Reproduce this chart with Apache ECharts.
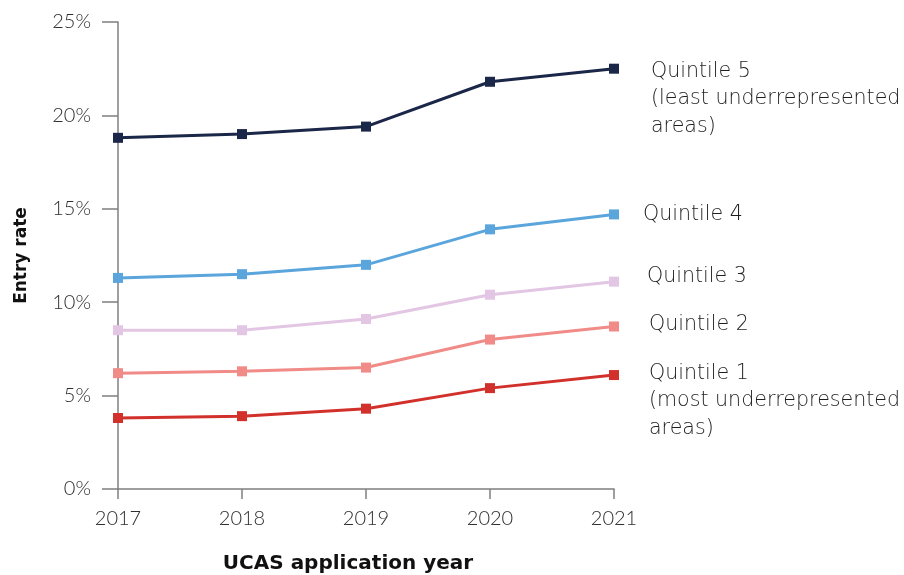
<!DOCTYPE html>
<html>
<head>
<meta charset="utf-8">
<script src="https://cdn.jsdelivr.net/npm/echarts@6/dist/echarts.min.js"></script>
<style>
  html, body { margin: 0; padding: 0; background: #fff; }
  #chart { width: 904px; height: 575px; }
</style>
</head>
<body>
<div id="chart"></div>
<script>
// UCAS entry rates by POLAR quintile, 2017–2021 (percent)
const years = ['2017', '2018', '2019', '2020', '2021'];
const yTicks = [0, 5, 10, 15, 20, 25];

const quintile5 = [18.8, 19.0, 19.4, 21.8, 22.5];
const quintile4 = [11.3, 11.5, 12.0, 13.9, 14.7];
const quintile3 = [8.5, 8.5, 9.1, 10.4, 11.1];
const quintile2 = [6.2, 6.3, 6.5, 8.0, 8.7];
const quintile1 = [3.8, 3.9, 4.3, 5.4, 6.1];

const seriesNames = [
  'Quintile 5\n(least underrepresented\nareas)',
  'Quintile 4',
  'Quintile 3',
  'Quintile 2',
  'Quintile 1\n(most underrepresented\nareas)'
];

const TICK_FONT = 'Lato, "Open Sans", sans-serif';
const LABEL_FONT = '"DejaVu Sans", "Open Sans", sans-serif';
const textColor = '#2e2e2e';
const axisColor = '#7f7f7f';

function makeSeries(name, values, color, dist, dy) {
  const data = values.map((v, i) => {
    if (i !== values.length - 1) return v;
    return {
      value: v,
      label: {
        show: true,
        position: 'right',
        distance: dist,
        offset: [0, dy],
        formatter: name,
        color: '#1e1e1e',
        fontFamily: LABEL_FONT,
        fontSize: 20.6,
        fontWeight: 200,
        lineHeight: 27.5,
        align: 'left'
      }
    };
  });
  return {
    name: name,
    type: 'line',
    data: data,
    symbol: 'rect',
    symbolSize: 10,
    lineStyle: { color: color, width: 3 },
    itemStyle: { color: color },
    label: { show: false },
    emphasis: { disabled: true },
    animation: false,
    z: 3
  };
}

const chart = echarts.init(document.getElementById('chart'), null, { renderer: 'canvas' });
chart.setOption({
  backgroundColor: '#fff',
  grid: { left: 118, right: 290, top: 22, bottom: 86, containLabel: false, outerBoundsMode: 'none' },
  xAxis: {
    type: 'category',
    data: years,
    boundaryGap: false,
    name: 'UCAS application year',
    nameLocation: 'middle',
    nameGap: 65,
    nameTextStyle: { fontFamily: LABEL_FONT, fontSize: 20, fontWeight: 'bold', color: '#111', padding: [0, 36, 0, 0] },
    axisLine: { lineStyle: { color: axisColor, width: 1.5 } },
    axisTick: { show: true, length: 10, alignWithLabel: true, lineStyle: { color: axisColor, width: 1.5 } },
    axisLabel: { margin: 20, fontFamily: TICK_FONT, fontSize: 20, fontWeight: 300, color: textColor },
    splitLine: { show: false }
  },
  yAxis: {
    type: 'value',
    min: yTicks[0],
    max: yTicks[yTicks.length - 1],
    interval: 5,
    name: 'Entry rate',
    nameLocation: 'middle',
    nameGap: 88,
    nameRotate: 90,
    nameTextStyle: { fontFamily: LABEL_FONT, fontSize: 17, fontWeight: 'bold', color: '#111' },
    axisLine: { show: true, lineStyle: { color: axisColor, width: 1.5 } },
    axisTick: { show: true, length: 16, lineStyle: { color: axisColor, width: 1.5 } },
    axisLabel: { margin: 27, fontFamily: TICK_FONT, fontSize: 20, fontWeight: 300, color: textColor, formatter: '{value}%' },
    splitLine: { show: false }
  },
  series: [
    makeSeries(seriesNames[0], quintile5, '#1b2748', 32, 30),
    makeSeries(seriesNames[1], quintile4, '#5aa5dc', 24, 0),
    makeSeries(seriesNames[2], quintile3, '#e2c6e3', 28, -5),
    makeSeries(seriesNames[3], quintile2, '#f08b87', 30, -2),
    makeSeries(seriesNames[4], quintile1, '#d2302b', 30, 26)
  ]
});
</script>
</body>
</html>
